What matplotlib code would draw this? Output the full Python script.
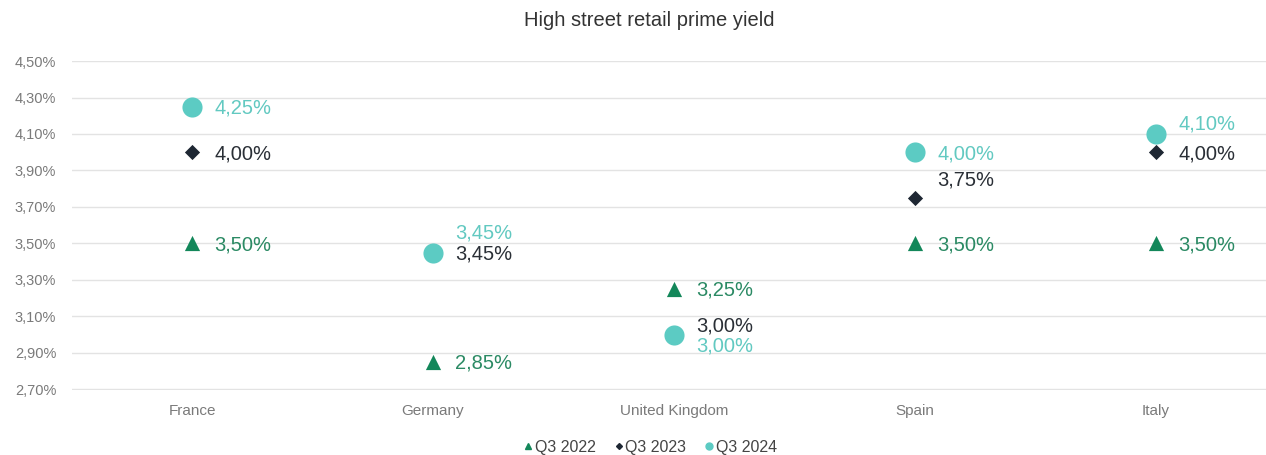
import numpy as np
import matplotlib.pyplot as plt
from matplotlib.lines import Line2D

plt.rcParams['font.family'] = ['Liberation Sans', 'DejaVu Sans']

countries = ['France', 'Germany', 'United Kingdom', 'Spain', 'Italy']
q3_2022 = [3.50, 2.85, 3.25, 3.50, 3.50]
q3_2023 = [4.00, 3.45, 3.00, 3.75, 4.00]
q3_2024 = [4.25, 3.45, 3.00, 4.00, 4.10]
yticks = [2.70, 2.90, 3.10, 3.30, 3.50, 3.70, 3.90, 4.10, 4.30, 4.50]

c22, c23, c24 = '#13875a', '#1e2733', '#5ccbc3'
t22, t23, t24 = '#2b8a64', '#2a2f36', '#62c9c1'

# vertical label nudges (points) where labels would collide
dy23 = {1: -1, 2: 6, 3: 13}
dy24 = {1: 14, 2: -8, 4: 7}

fig = plt.figure(figsize=(12.66, 4.55), dpi=100)
ax = fig.add_axes([0.0565, 0.1429, 0.9435, 0.723])

x = np.arange(len(countries))
ax.scatter(x, q3_2022, marker='^', s=120, color=c22, zorder=3, linewidths=0)
ax.scatter(x, q3_2023, marker='D', s=60, color=c23, zorder=3, linewidths=0)
ax.scatter(x, q3_2024, marker='o', s=210, color=c24, zorder=4, linewidths=0)

def lab(v):
    return f'{v:.2f}%'.replace('.', ',')

for i in x:
    ax.annotate(lab(q3_2022[i]), (i, q3_2022[i]), xytext=(16, -1), textcoords='offset points',
                va='center', ha='left', fontsize=14.5, color=t22)
    ax.annotate(lab(q3_2023[i]), (i, q3_2023[i]), xytext=(16, dy23.get(i, -1)), textcoords='offset points',
                va='center', ha='left', fontsize=14.5, color=t23)
    ax.annotate(lab(q3_2024[i]), (i, q3_2024[i]), xytext=(16, dy24.get(i, -1)), textcoords='offset points',
                va='center', ha='left', fontsize=14.5, color=t24)

ax.set_xlim(-0.5, 4.456)
ax.set_ylim(2.697, 4.50)
ax.set_yticks(yticks)
ax.set_yticklabels([lab(v) for v in yticks])
ax.set_xticks(x)
ax.set_xticklabels(countries)
ax.tick_params(axis='y', length=0, pad=11, labelsize=10.5, labelcolor='#7a7a7a')
ax.tick_params(axis='x', length=0, pad=10, labelsize=11, labelcolor='#7a7a7a')
ax.grid(axis='y', color='#e3e3e3', linewidth=1)
ax.set_axisbelow(True)
for s in ax.spines.values():
    s.set_visible(False)

fig.text(0.513, 0.955, 'High street retail prime yield', ha='center', va='center',
         fontsize=14.5, color='#333333')

handles = [
    Line2D([], [], marker='^', color=c22, linestyle='none', markersize=4),
    Line2D([], [], marker='D', color=c23, linestyle='none', markersize=3),
    Line2D([], [], marker='o', color=c24, linestyle='none', markersize=5),
]
fig.legend(handles, ['Q3 2022', 'Q3 2023', 'Q3 2024'], loc='center', bbox_to_anchor=(0.514, 0.017),
           ncol=3, frameon=False, fontsize=11.5, handlelength=0.5, handletextpad=0.15,
           columnspacing=1.2, labelcolor='#444444')

fig.savefig('out.png', dpi=100)
